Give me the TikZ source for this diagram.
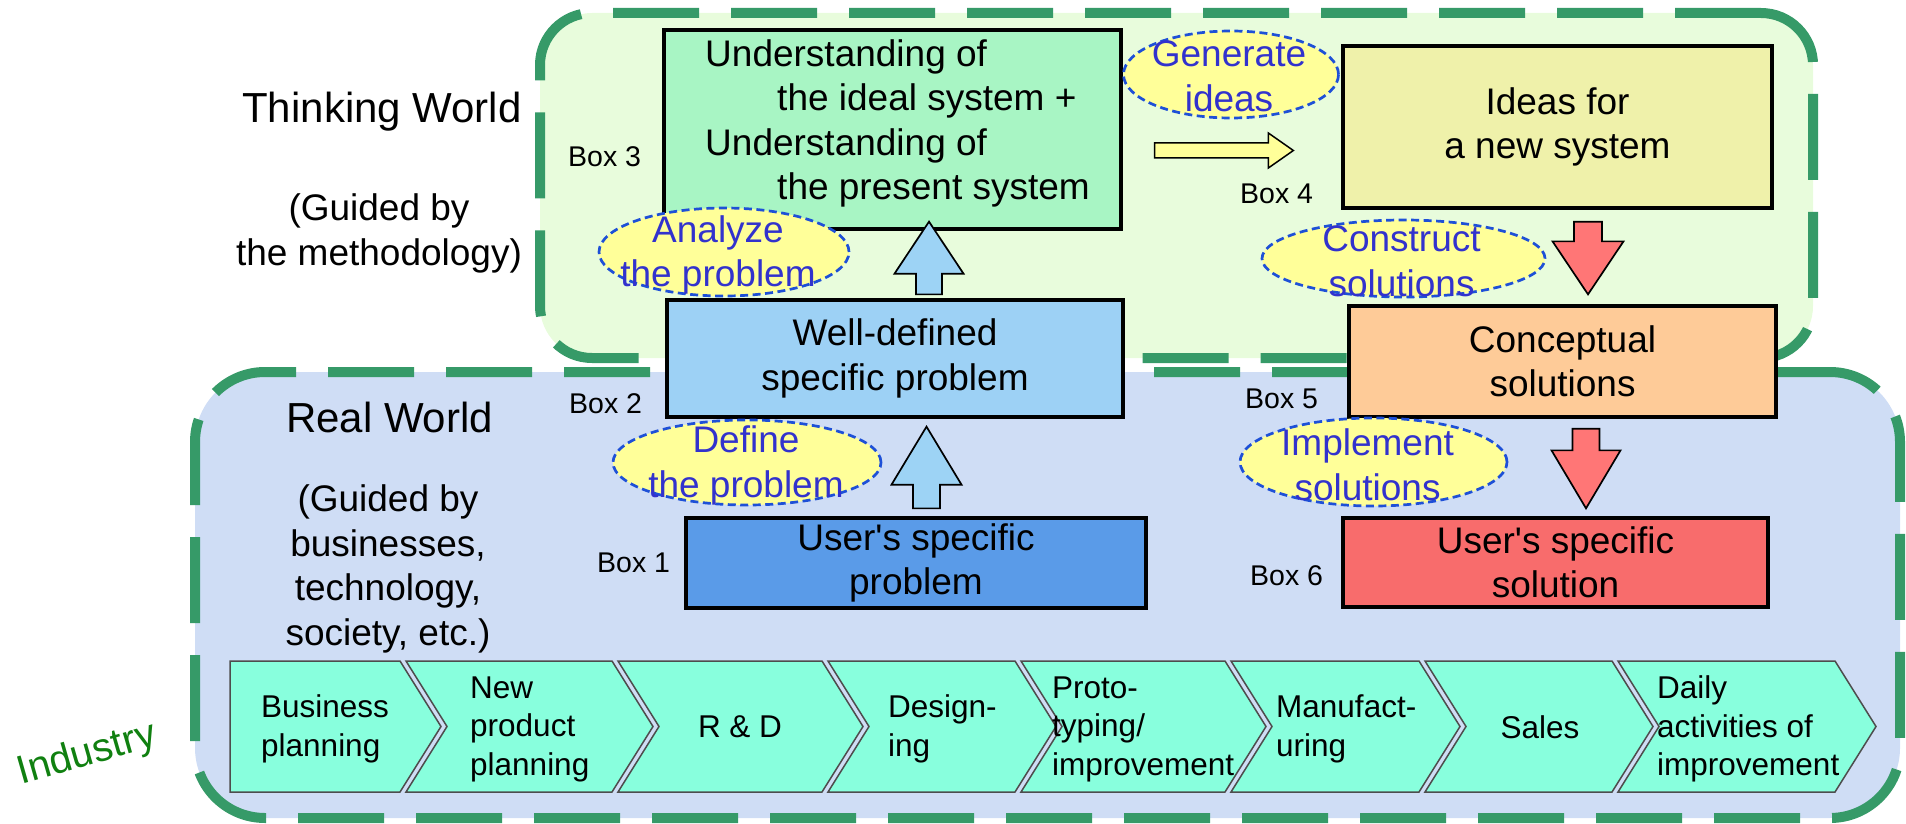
\documentclass[tikz,border=0pt]{standalone}
\usepackage{fontspec}
\setmainfont{Liberation Sans}
\usetikzlibrary{shapes.geometric,calc}

\definecolor{dashgreen}{RGB}{54,154,104}
\definecolor{thinkfill}{RGB}{232,252,220}
\definecolor{realfill}{RGB}{207,221,245}
\definecolor{boxone}{RGB}{90,155,232}
\definecolor{boxtwo}{RGB}{157,209,245}
\definecolor{boxthree}{RGB}{168,245,196}
\definecolor{boxfour}{RGB}{239,241,170}
\definecolor{boxfive}{RGB}{254,203,152}
\definecolor{boxsix}{RGB}{248,108,108}
\definecolor{ovalfill}{RGB}{255,255,153}
\definecolor{ovalline}{RGB}{30,80,215}
\definecolor{ovalink}{RGB}{50,50,205}
\definecolor{chevfill}{RGB}{136,255,221}
\definecolor{chevline}{RGB}{77,77,77}
\definecolor{upfill}{RGB}{157,211,245}
\definecolor{downfill}{RGB}{255,118,118}
\definecolor{rightfill}{RGB}{255,255,153}
\definecolor{industrygreen}{RGB}{16,128,16}

\newcommand\boxfont{\fontsize{37}{44.5}\selectfont}
\newcommand\tagfont{\fontsize{28.5}{34}\selectfont}
\newcommand\worldfont{\fontsize{42}{50}\selectfont}
\newcommand\chevfont{\fontsize{31.5}{38.5}\selectfont}

% vertical block arrow: style, tail, tip, shaft half width, head half width, signed head length
\newcommand\vfat[6]{%
  \draw[#1] let \p1=(#2), \p2=(#3) in
    (\x2,\y2) -- ({\x2+#5},{\y2+(#6)*1pt}) -- ({\x2+#4},{\y2+(#6)*1pt}) -- ({\x1+#4},\y1)
    -- ({\x1-#4},\y1) -- ({\x1-#4},{\y2+(#6)*1pt}) -- ({\x2-#5},{\y2+(#6)*1pt}) -- cycle;}
% rightward block arrow: style, tail, tip, shaft half height, head half height, head length
\newcommand\hfat[6]{%
  \draw[#1] let \p1=(#2), \p2=(#3) in
    (\x2,\y2) -- ({\x2-#6},{\y2+#5}) -- ({\x2-#6},{\y2+#4}) -- (\x1,{\y1+#4})
    -- (\x1,{\y1-#4}) -- ({\x2-#6},{\y2-#4}) -- ({\x2-#6},{\y2-#5}) -- cycle;}

\begin{document}
\begin{tikzpicture}[x=1pt,y=-1pt,
  region/.style={draw=dashgreen,line width=10pt,dash pattern=on 86pt off 32pt,inner sep=0pt},
  box/.style={draw=black,line width=3.3pt,inner sep=0pt,font=\boxfont,align=center},
  oval/.style={ellipse,draw=ovalline,line width=2.7pt,dash pattern=on 8pt off 4.5pt,fill=ovalfill,inner sep=0pt},
  ovaltext/.style={font=\boxfont,text=ovalink,align=center,inner sep=0pt},
  tag/.style={font=\tagfont,anchor=base west,inner sep=0pt},
  chev/.style={draw=chevline,line width=1.5pt,fill=chevfill,line join=miter},
  chevtext/.style={font=\chevfont,align=left,inner sep=0pt},
  fatup/.style={draw=black,line width=1.7pt,fill=upfill,line join=miter},
  fatdown/.style={draw=black,line width=1.7pt,fill=downfill,line join=miter},
  fatright/.style={draw=black,line width=1.5pt,fill=rightfill,line join=miter}]

\useasboundingbox (0,0) rectangle (1906,824);

% the two worlds
\node[region,fill=thinkfill,rounded corners=52pt,minimum width=1273pt,minimum height=345pt] (thinking) at (1176.5,185.5) {};
\node[region,fill=realfill,rounded corners=70pt,minimum width=1705pt,minimum height=446pt] (real) at (1047.5,595) {};

% industry value chain
\draw[chev] (230,661) -- (400,661) -- (441,726.5) -- (400,792) -- (230,792) -- cycle;
\foreach \l/\r in {406/612, 618/822, 828/1015, 1021/1225, 1231/1419, 1425/1612, 1618/1835}
  \draw[chev] (\l,661) -- (\r,661) -- (\r+41,726.5) -- (\r,792) -- (\l,792) -- (\l+41,726.5) -- cycle;

\node[chevtext,anchor=west] (p1) at (261,729) {Business\\planning};
\node[chevtext,anchor=west] (p2) at (470,729) {New\\product\\planning};
\node[chevtext] (p3) at (740,727) {R \& D};
\node[chevtext,anchor=west] (p4) at (888,729) {Design-\\ing};
\node[chevtext,anchor=west] (p5) at (1052,729) {Proto-\\typing/\\improvement};
\node[chevtext,anchor=west] (p6) at (1276,729) {Manufact-\\uring};
\node[chevtext] (p7) at (1540,727) {Sales};
\node[chevtext,anchor=west] (p8) at (1657,729) {Daily\\activities of\\improvement};

% boxes
\node[box,fill=boxone,minimum width=460pt,minimum height=90pt] (b1) at (916,563) {User\textquotesingle s specific\\problem};
\node[box,fill=boxtwo,minimum width=456pt,minimum height=117pt] (b2) at (895,358.5) {Well-defined\\specific problem};
\node[box,fill=boxthree,minimum width=457pt,minimum height=199pt,align=left] (b3) at (892.5,129.5)
  {\hspace*{10pt}Understanding of\\\hspace*{82pt}the ideal system +\\\hspace*{10pt}Understanding of\\\hspace*{82pt}the present system\rule[-20pt]{0pt}{1pt}};
\node[box,fill=boxfour,minimum width=429pt,minimum height=162pt] (b4) at (1557.5,127) {Ideas for\\a new system};
\node[box,fill=boxfive,minimum width=427pt,minimum height=111pt] (b5) at (1562.5,361.5) {Conceptual\\solutions};
\node[box,fill=boxsix,minimum width=425pt,minimum height=89pt] (b6) at (1555.5,562.5) {User\textquotesingle s specific\\solution};

% block arrows between boxes
\vfat{fatup}{$(b1.north)+(10.5,-8)$}{$(b2.south)+(31.5,8)$}{13.5pt}{35pt}{-58}
\vfat{fatup}{$(b2.north)+(34,-4)$}{$(b3.south)+(36.5,-9)$}{13pt}{34.5pt}{-52}
\hfat{fatright}{$(b3.east)+(32,21)$}{$(b4.west)+(-48,23.5)$}{7.5pt}{17.5pt}{25pt}
\vfat{fatdown}{$(b4.south)+(30.5,12)$}{$(b5.north)+(25.5,-10)$}{14pt}{35.5pt}{53}
\vfat{fatdown}{$(b5.south)+(23.5,10)$}{$(b6.north)+(30.5,-8)$}{13.5pt}{34.5pt}{58}

% activity ovals
\node[oval,minimum width=268pt,minimum height=85pt] (define) at (747,462.5) {};
\node[ovaltext] (definetext) at ($(define)+(-1,3)$) {Define\\the problem};
\node[oval,minimum width=250pt,minimum height=88pt] (analyze) at (724,252) {};
\node[ovaltext] (analyzetext) at ($(analyze)+(-6,3)$) {Analyze\\the problem};
\node[oval,minimum width=215pt,minimum height=87pt] (generate) at (1231,74.5) {};
\node[ovaltext] (generatetext) at ($(generate)+(-2,2)$) {Generate\\ideas};
\node[oval,minimum width=283pt,minimum height=77pt] (construct) at (1403.5,258.5) {};
\node[ovaltext] (constructtext) at ($(construct)+(-2,3)$) {Construct\\solutions};
\node[oval,minimum width=267pt,minimum height=88pt] (implement) at (1373.5,462) {};
\node[ovaltext] (implementtext) at ($(implement)+(-6,3)$) {Implement\\solutions};

% box tags
\node[tag] (tag1) at (597,572) {Box 1};
\node[tag] (tag2) at (569,413) {Box 2};
\node[tag] (tag3) at (568,167) {Box 3};
\node[tag] (tag4) at (1240,203) {Box 4};
\node[tag] (tag5) at (1245,408) {Box 5};
\node[tag] (tag6) at (1250,585) {Box 6};

% world titles
\node[font=\worldfont,anchor=base,inner sep=0pt] (thinktitle) at (382,123) {Thinking World};
\node[font=\boxfont,align=center,inner sep=0pt] (thinkguide) at (379,233.5) {(Guided by\\the methodology)};
\node[font=\worldfont,anchor=base,inner sep=0pt] (realtitle) at (389.5,432) {Real World};
\node[font=\boxfont,align=center,inner sep=0pt] (realguide) at (388,569) {(Guided by\\businesses,\\technology,\\society, etc.)};
\node[font=\fontsize{40}{48}\selectfont,text=industrygreen,rotate=16,inner sep=0pt] (industry) at (87,755) {Industry};
\end{tikzpicture}
\end{document}
